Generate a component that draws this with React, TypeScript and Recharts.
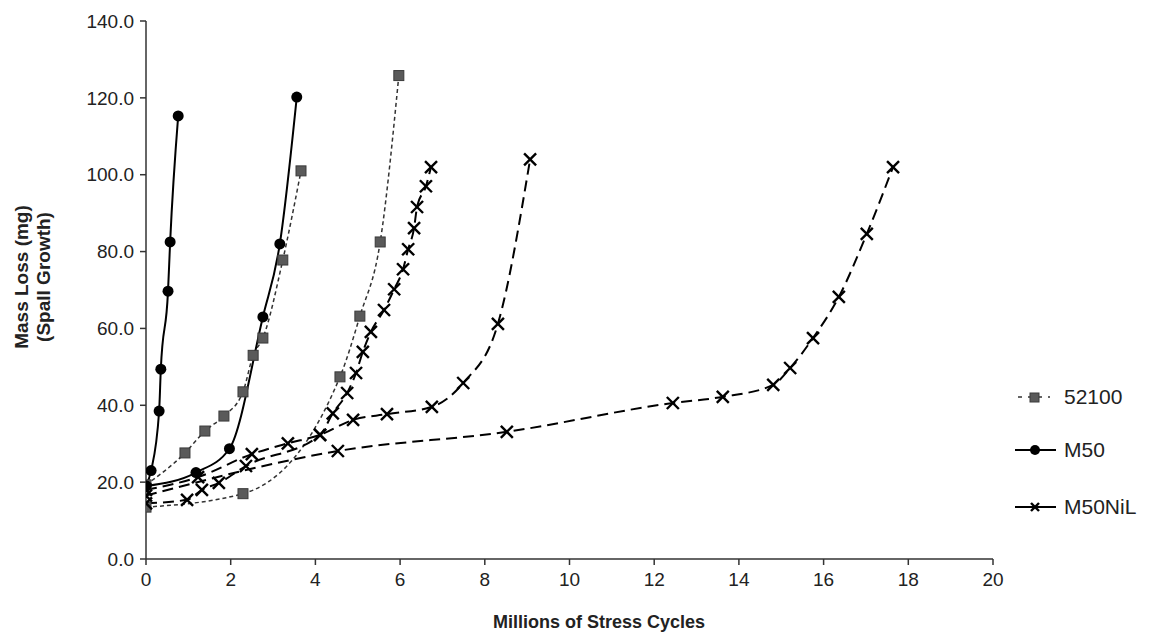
import React from 'react';
import { LineChart, Line, XAxis, YAxis } from 'recharts';

// [millions of cycles, mass loss mg]
const steel52100A = [[0, 19.3], [0.92, 27.6], [1.39, 33.3], [1.84, 37.2], [2.29, 43.5], [2.53, 53], [2.76, 57.5], [3.23, 77.8], [3.66, 101]];
const steel52100B = [[0, 13.5], [2.29, 17], [4.58, 47.4], [5.05, 63.2], [5.53, 82.5], [5.97, 125.8]];
const m50A = [[0, 19], [0.12, 23], [0.31, 38.5], [0.35, 49.4], [0.52, 69.7], [0.57, 82.5], [0.76, 115.3]];
const m50B = [[0, 19], [1.18, 22.5], [1.97, 28.7], [2.76, 63], [3.16, 82], [3.56, 120.2]];
const m50nilA = [[0, 16.5], [4.53, 28.1], [8.52, 33.1], [12.44, 40.6], [13.62, 42.2], [14.81, 45.3], [15.21, 49.7], [15.75, 57.5], [16.36, 68.2], [17.02, 84.6], [17.64, 102]];
const m50nilB = [[0, 18], [1.23, 21.3], [2.5, 27.3], [3.35, 30.1], [4.11, 32.3], [4.89, 36.2], [5.69, 37.7], [6.75, 39.6], [7.49, 45.8], [8.31, 61.2], [9.07, 104]];
const m50nilC = [[0, 14.5], [0.97, 15.4], [1.32, 18], [1.72, 19.8], [2.36, 24.2], [4.11, 32.3], [4.41, 37.9], [4.75, 43.2], [4.96, 48.4], [5.12, 53.9], [5.31, 59.1], [5.62, 64.8], [5.86, 70.2], [6.07, 75.4], [6.19, 80.6], [6.33, 86.1], [6.4, 91.6], [6.61, 97], [6.73, 102]];

const xTicks = [0, 2, 4, 6, 8, 10, 12, 14, 16, 18, 20];
const yTicks = [0, 20, 40, 60, 80, 100, 120, 140];
const legendNames = ['52100', 'M50', 'M50NiL'];

const toPoints = (arr: number[][]) => arr.map(([x, y]) => ({ x, y }));

const FONT = '"Liberation Sans", Arial, sans-serif';

const SquareDot = (p: any) => (
  <rect key={`s-${p.index}-${p.cx}`} x={p.cx - 5} y={p.cy - 5} width={10} height={10} fill="#5a5a5a" stroke="#3a3a3a" strokeWidth={1} />
);
const CircleDot = (p: any) => <circle key={`c-${p.index}-${p.cx}`} cx={p.cx} cy={p.cy} r={5.5} fill="#000" />;
const CrossDot = (p: any) => (
  <g key={`x-${p.index}-${p.cx}`} stroke="#000" strokeWidth={2.4}>
    <line x1={p.cx - 6} y1={p.cy - 6} x2={p.cx + 6} y2={p.cy + 6} />
    <line x1={p.cx - 6} y1={p.cy + 6} x2={p.cx + 6} y2={p.cy - 6} />
  </g>
);

function LegendBox() {
  const rowY = [27, 80, 137];
  return (
    <div style={{ position: 'absolute', left: 1010, top: 370, width: 139, height: 160, fontFamily: FONT }}>
      {legendNames.map((name, i) => (
        <div key={name} style={{ position: 'absolute', left: 0, top: rowY[i] - 14, height: 28, display: 'flex', alignItems: 'center' }}>
          <svg width={48} height={20}>
            {i === 0 && (
              <g>
                <line x1={8} y1={10} x2={40} y2={10} stroke="#333" strokeWidth={1.5} strokeDasharray="4 6" />
                <rect x={20} y={6} width={9} height={9} fill="#5a5a5a" stroke="#3a3a3a" />
              </g>
            )}
            {i === 1 && (
              <g>
                <line x1={5} y1={10} x2={46} y2={10} stroke="#000" strokeWidth={2} />
                <circle cx={25} cy={10} r={5} fill="#000" />
              </g>
            )}
            {i === 2 && (
              <g>
                <line x1={5} y1={10} x2={46} y2={10} stroke="#000" strokeWidth={2} />
                <g stroke="#000" strokeWidth={2.4}>
                  <line x1={21} y1={6} x2={29} y2={14} />
                  <line x1={21} y1={14} x2={29} y2={6} />
                </g>
              </g>
            )}
          </svg>
          <span style={{ fontSize: 21, color: '#222', marginLeft: 6 }}>{name}</span>
        </div>
      ))}
    </div>
  );
}

export default function App() {
  return (
    <div style={{ position: 'absolute', left: 0, top: 0, width: 1149, height: 639, background: '#fff' }}>
      <LineChart width={1149} height={639} margin={{ top: 21, right: 156, bottom: 0, left: 0 }}>
        <XAxis
          type="number"
          dataKey="x"
          domain={[0, 20]}
          ticks={xTicks}
          allowDataOverflow
          height={80}
          stroke="#333"
          strokeWidth={1.5}
          tickSize={6}
          tickMargin={8}
          tick={{ fontSize: 19, fill: '#222', fontFamily: FONT }}
          label={{
            content: () => (
              <text x={599} y={628} textAnchor="middle" fontFamily={FONT} fontWeight="bold" fontSize={18} fill="#222">
                Millions of Stress Cycles
              </text>
            ),
          }}
        />
        <YAxis
          type="number"
          domain={[0, 140]}
          ticks={yTicks}
          width={146}
          stroke="#333"
          strokeWidth={1.5}
          tickSize={6}
          tickMargin={6}
          tickFormatter={(v: number) => v.toFixed(1)}
          tick={{ fontSize: 19, fill: '#222', fontFamily: FONT }}
          label={{
            content: () => (
              <text transform="translate(32,277) rotate(-90)" textAnchor="middle" fontFamily={FONT} fontWeight="bold" fontSize={19} fill="#222">
                <tspan x={0} dy={-4}>Mass Loss (mg)</tspan>
                <tspan x={0} dy={22}>(Spall Growth)</tspan>
              </text>
            ),
          }}
        />

        <Line data={toPoints(steel52100A)} dataKey="y" type="monotone" stroke="#333" strokeWidth={1.5} strokeDasharray="4 3" dot={SquareDot} activeDot={false} isAnimationActive={false} legendType="none" />
        <Line data={toPoints(steel52100B)} dataKey="y" type="monotone" stroke="#333" strokeWidth={1.5} strokeDasharray="4 3" dot={SquareDot} activeDot={false} isAnimationActive={false} legendType="none" />
        <Line data={toPoints(m50nilA)} dataKey="y" type="monotone" stroke="#000" strokeWidth={2} strokeDasharray="11 6" dot={CrossDot} activeDot={false} isAnimationActive={false} legendType="none" />
        <Line data={toPoints(m50nilB)} dataKey="y" type="monotone" stroke="#000" strokeWidth={2} strokeDasharray="11 6" dot={CrossDot} activeDot={false} isAnimationActive={false} legendType="none" />
        <Line data={toPoints(m50nilC)} dataKey="y" type="monotone" stroke="#000" strokeWidth={2} strokeDasharray="11 6" dot={CrossDot} activeDot={false} isAnimationActive={false} legendType="none" />
        <Line data={toPoints(m50A)} dataKey="y" type="monotone" stroke="#000" strokeWidth={2} dot={CircleDot} activeDot={false} isAnimationActive={false} legendType="none" />
        <Line data={toPoints(m50B)} dataKey="y" type="monotone" stroke="#000" strokeWidth={2} dot={CircleDot} activeDot={false} isAnimationActive={false} legendType="none" />
      </LineChart>
      <LegendBox />
    </div>
  );
}
